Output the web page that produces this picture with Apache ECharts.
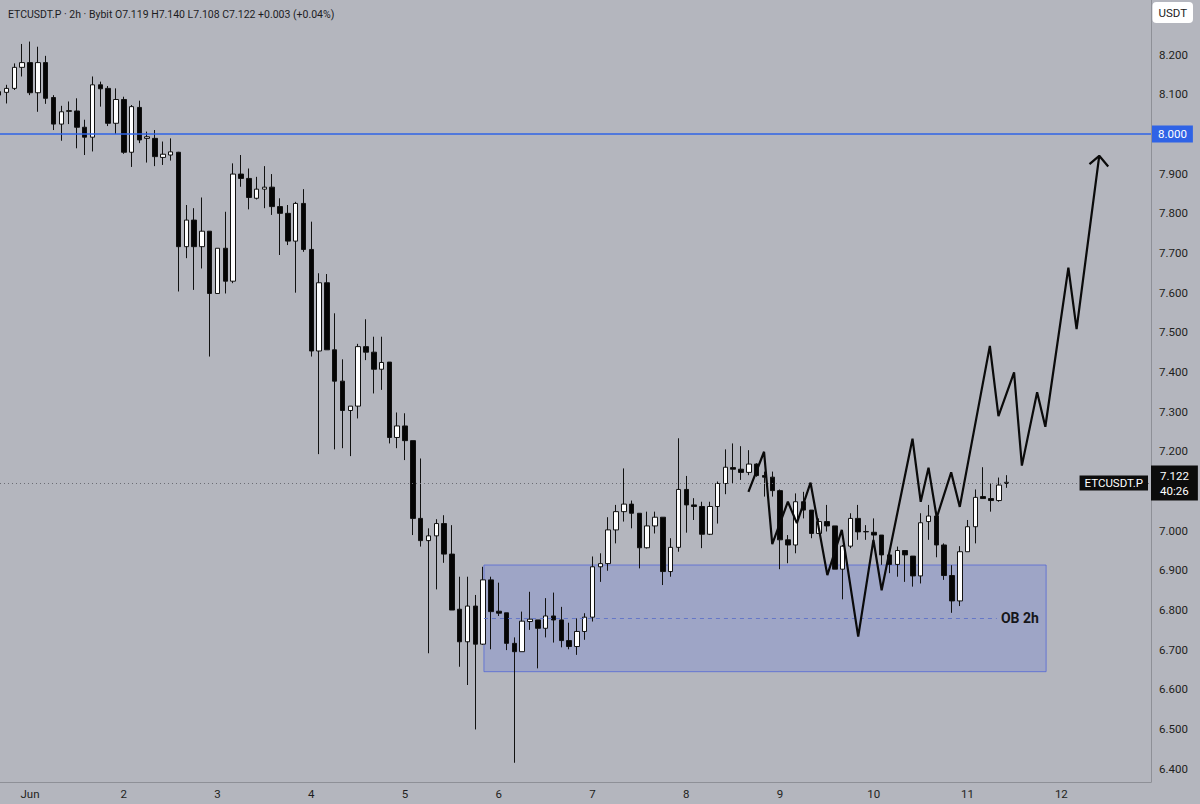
<!DOCTYPE html>
<html>
<head>
<meta charset="utf-8">
<title>ETCUSDT.P 2h</title>
<script src="https://cdn.jsdelivr.net/npm/echarts@6/dist/echarts.min.js"></script>
<style>
html,body{margin:0;padding:0;background:#b4b6be;}
#main{width:1200px;height:804px;}
</style>
</head>
<body>
<div id="main"></div>
<script>
// 2h candles, first one is May 31 16:00 -> [open, close, low, high]
var ohlc = [
	[8.098,8.107,8.052,8.119],[8.105,8.115,8.077,8.124],[8.115,8.168,8.111,8.178],[8.168,8.180,8.145,8.227],
	[8.180,8.104,8.098,8.233],[8.104,8.180,8.056,8.220],[8.180,8.090,8.076,8.197],[8.092,8.025,8.010,8.098],
	[8.025,8.056,7.983,8.071],[8.057,8.059,8.025,8.082],[8.058,8.017,7.964,8.090],[8.017,7.992,7.947,8.036],
	[7.992,8.124,7.956,8.145],[8.124,8.114,8.069,8.132],[8.115,8.027,8.020,8.121],[8.027,8.087,8.000,8.115],
	[8.087,7.954,7.950,8.094],[7.954,8.069,7.917,8.073],[8.067,7.985,7.977,8.084],[7.989,7.993,7.928,8.006],
	[7.989,7.943,7.919,8.010],[7.941,7.949,7.922,7.981],[7.947,7.955,7.933,7.989],[7.954,7.716,7.603,7.955],
	[7.716,7.783,7.687,7.821],[7.783,7.716,7.607,7.813],[7.716,7.755,7.661,7.840],[7.755,7.598,7.439,7.755],
	[7.598,7.712,7.598,7.712],[7.712,7.629,7.598,7.804],[7.629,7.899,7.624,7.926],[7.899,7.888,7.867,7.947],
	[7.888,7.840,7.810,7.913],[7.838,7.861,7.835,7.892],[7.861,7.866,7.813,7.919],[7.866,7.817,7.796,7.899],
	[7.817,7.800,7.695,7.838],[7.800,7.730,7.720,7.821],[7.730,7.825,7.600,7.829],[7.825,7.709,7.703,7.861],
	[7.709,7.453,7.439,7.779],[7.453,7.625,7.193,7.649],[7.625,7.456,7.456,7.647],[7.456,7.377,7.205,7.548],
	[7.377,7.303,7.208,7.432],[7.303,7.314,7.188,7.314],[7.314,7.464,7.283,7.471],[7.464,7.450,7.430,7.533],
	[7.450,7.407,7.346,7.489],[7.407,7.424,7.355,7.489],[7.425,7.235,7.220,7.425],[7.235,7.264,7.208,7.298],
	[7.264,7.227,7.178,7.296],[7.227,7.031,6.989,7.227],[7.031,6.975,6.960,7.182],[6.975,6.987,6.691,7.006],
	[6.987,7.018,6.852,7.029],[7.018,6.941,6.919,7.039],[6.941,6.800,6.800,7.014],[6.802,6.720,6.657,6.884],
	[6.720,6.810,6.611,6.884],[6.810,6.714,6.499,6.838],[6.714,6.876,6.712,6.909],[6.876,6.796,6.701,6.884],
	[6.797,6.792,6.785,6.869],[6.793,6.716,6.699,6.793],[6.716,6.695,6.415,6.731],[6.695,6.772,6.695,6.796],
	[6.771,6.777,6.750,6.846],[6.775,6.754,6.653,6.775],[6.754,6.785,6.731,6.830],[6.785,6.775,6.718,6.844],
	[6.775,6.723,6.706,6.808],[6.723,6.708,6.701,6.768],[6.708,6.746,6.687,6.779],[6.746,6.782,6.725,6.792],
	[6.782,6.909,6.771,6.935],[6.909,6.917,6.871,6.943],[6.917,7.002,6.899,7.034],[7.002,7.048,6.968,7.065],
	[7.048,7.067,7.023,7.157],[7.067,7.044,7.006,7.076],[7.044,6.957,6.905,7.044],[6.957,7.012,6.955,7.048],
	[7.012,7.034,6.993,7.048],[7.034,6.897,6.863,7.034],[6.897,6.958,6.884,6.981],[6.958,7.104,6.947,7.233],
	[7.104,7.065,6.995,7.138],[7.065,7.061,7.027,7.082],[7.061,6.991,6.956,7.073],[6.991,7.061,6.989,7.073],
	[7.061,7.119,7.018,7.124],[7.119,7.160,7.092,7.205],[7.159,7.155,7.118,7.220],[7.155,7.147,7.128,7.213],
	[7.147,7.168,7.140,7.203],[7.168,7.139,7.136,7.170],[7.139,7.135,7.086,7.149],[7.135,7.101,7.086,7.149],
	[7.101,6.977,6.903,7.104],[6.977,6.964,6.918,6.989],[6.964,7.073,6.943,7.094],[7.073,7.052,7.031,7.098],
	[7.052,6.993,6.981,7.052],[6.993,7.023,6.993,7.031],[7.023,7.012,6.998,7.065],[7.012,6.903,6.903,7.012],
	[6.903,6.961,6.827,6.964],[6.961,7.031,6.956,7.044],[7.031,6.997,6.977,7.065],[6.997,6.998,6.977,7.014],
	[6.996,6.989,6.964,7.031],[6.989,6.939,6.914,6.989],[6.939,6.915,6.893,6.939],[6.915,6.950,6.884,6.960],
	[6.950,6.939,6.871,6.950],[6.936,6.886,6.859,6.936],[6.886,7.020,6.867,7.044],[7.023,7.037,6.977,7.065],
	[7.037,6.964,6.933,7.048],[6.964,6.887,6.876,6.968],[6.887,6.823,6.793,6.913],[6.823,6.947,6.810,6.961],
	[6.947,7.010,6.947,7.027],[7.010,7.084,6.968,7.104],[7.086,7.081,7.081,7.160],[7.081,7.076,7.048,7.119],
	[7.076,7.115,7.073,7.134],[7.119,7.122,7.108,7.140]
];
var firstHour = -8;   // May 31 16:00, hours counted from Jun 1 00:00
var stepHours = 2;

var dayLabels = ['Jun','2','3','4','5','6','7','8','9','10','11','12'];
var dayHours = [0,24,48,72,96,120,144,168,192,216,240,264];
// 7.100 and 8.000 sit under the price labels
var yTicks = [6.4,6.5,6.6,6.7,6.8,6.9,7.0,7.2,7.3,7.4,7.5,7.6,7.7,7.8,7.9,8.1,8.2];

var levelPrice = 8.0;
var lastPrice = 7.122;
var countdown = '40:26';

// drawn projection, [hours from Jun 1 00:00, price]
var zigzag = [
	[183.9,7.098],[187.9,7.199],[190.0,6.966],[194.0,7.073],[196.3,7.019],[199.8,7.121],
	[204.1,6.888],[207.8,7.002],[212.0,6.733],[215.9,6.977],[218.0,6.850],[225.9,7.232],
	[228.0,7.073],[230.0,7.159],[232.1,7.033],[235.8,7.147],[238.0,7.060],[245.7,7.466],
	[247.9,7.289],[251.9,7.399],[253.9,7.164],[257.8,7.349],[259.9,7.262],[265.8,7.663],
	[267.9,7.508],[273.7,7.945]
];
var arrowHead = [[271.2,7.924],[273.7,7.945],[276.0,7.918]];

// order block 2h: start hour, end hour, top, bottom, mid line end
var obStart = 116.2, obEnd = 260.1, obTop = 6.9135, obBottom = 6.6446, obMidEnd = 247.5;

var candles = ohlc.map(function (c, i) {
	return [firstHour + i * stepHours, c[0], c[1], c[2], c[3]];
});

var last = ohlc[ohlc.length - 1];
var chg = last[1] - last[0];
var header = 'ETCUSDT.P · 2h · Bybit O' + last[0].toFixed(3) + ' H' + last[3].toFixed(3) +
	' L' + last[2].toFixed(3) + ' C' + last[1].toFixed(3) + ' +' + chg.toFixed(3) +
	' (+' + (chg / last[0] * 100).toFixed(2) + '%)';

var font = 'Roboto, "Noto Sans", sans-serif';
var axisColor = '#8e9097';

var myChart = echarts.init(document.getElementById('main'), null, {renderer: 'svg'});
var option = {
	backgroundColor: '#b4b6be',
	animation: false,
	title: {
		text: header,
		left: 3, top: 4,
		textStyle: {fontSize: 10.5, fontWeight: 'normal', color: '#1c1c1e', fontFamily: font}
	},
	graphic: [{
		type: 'text', right: 7, top: 2, z: 100,
		style: {text: 'USDT', fill: '#222', font: '11.5px ' + font, backgroundColor: '#fff',
			padding: [5, 6, 4, 6], borderRadius: 4}
	}],
	grid: {left: 0, right: 49, top: 0, bottom: 22},
	xAxis: {
		type: 'value',
		min: -7.68, max: 286.95,
		axisLine: {show: true, onZero: false, lineStyle: {color: axisColor, width: 1}},
		axisTick: {show: false},
		splitLine: {show: false},
		axisLabel: {
			color: '#1e1e20', fontSize: 11.5, fontFamily: font, margin: 6,
			customValues: dayHours,
			formatter: function (v) { return dayLabels[Math.round(v / 24)]; }
		}
	},
	yAxis: {
		type: 'value',
		position: 'right',
		min: 6.3665, max: 8.3378,
		axisLine: {show: true, onZero: false, lineStyle: {color: axisColor, width: 1}},
		axisTick: {show: false},
		splitLine: {show: false},
		axisLabel: {
			color: '#1e1e20', fontSize: 11.5, fontFamily: font, margin: 8,
			customValues: yTicks,
			formatter: function (v) { return v.toFixed(3); }
		}
	},
	series: [{
		type: 'candlestick',
		name: 'ETCUSDT.P',
		data: candles,
		encode: {x: 0, y: [1, 2, 3, 4]},
		barWidth: 5,
		itemStyle: {color: '#ffffff', color0: '#050505', borderColor: '#111', borderColor0: '#111', borderWidth: 1},
		markLine: {
			silent: true,
			symbol: 'none',
			animation: false,
			data: [{
				yAxis: levelPrice,
				lineStyle: {color: '#2f63e6', width: 1.6, type: 'solid'},
				label: {show: true, position: 'end', distance: 1, formatter: levelPrice.toFixed(3),
					color: '#fff', backgroundColor: '#2f63e6', padding: [3, 6, 2, 6],
					fontSize: 11.5, fontFamily: font}
			}, {
				yAxis: lastPrice,
				lineStyle: {color: '#6b6d74', width: 1, type: [1, 3]},
				label: {show: true, position: 'end', distance: 0,
					formatter: lastPrice.toFixed(3) + '\n' + countdown,
					color: '#fff', backgroundColor: '#0c0c0c', padding: [3, 9, 2, 9],
					lineHeight: 15, fontSize: 11.5, fontFamily: font}
			}, {
				yAxis: lastPrice,
				lineStyle: {color: '#6b6d74', width: 1, type: [1, 3]},
				label: {show: true, position: 'insideEnd', distance: 3, formatter: 'ETCUSDT.P',
					color: '#fff', backgroundColor: '#0c0c0c', padding: [2, 5, 1, 5],
					fontSize: 11.5, fontFamily: font}
			}]
		}
	}, {
		type: 'line',
		name: 'path',
		data: zigzag,
		symbol: 'none',
		z: 5,
		lineStyle: {color: '#0a0a0a', width: 2.2},
		markArea: {
			silent: true,
			itemStyle: {color: 'rgba(70,100,230,0.2)', borderColor: 'rgba(80,100,215,0.75)', borderWidth: 1},
			data: [[{coord: [obStart, obTop]}, {coord: [obEnd, obBottom]}]]
		},
		markLine: {
			silent: true,
			symbol: 'none',
			animation: false,
			lineStyle: {color: 'rgba(90,110,200,0.85)', width: 1, type: [4, 4]},
			label: {show: true, position: 'end', distance: 4, formatter: 'OB 2h',
				color: '#16161a', fontSize: 14, fontWeight: 'bold', fontFamily: font},
			data: [[{coord: [obStart, (obTop + obBottom) / 2]}, {coord: [obMidEnd, (obTop + obBottom) / 2]}]]
		}
	}, {
		type: 'line',
		name: 'arrow',
		data: arrowHead,
		symbol: 'none',
		z: 5,
		lineStyle: {color: '#0a0a0a', width: 2.2}
	}]
};
myChart.setOption(option);
</script>
</body>
</html>
